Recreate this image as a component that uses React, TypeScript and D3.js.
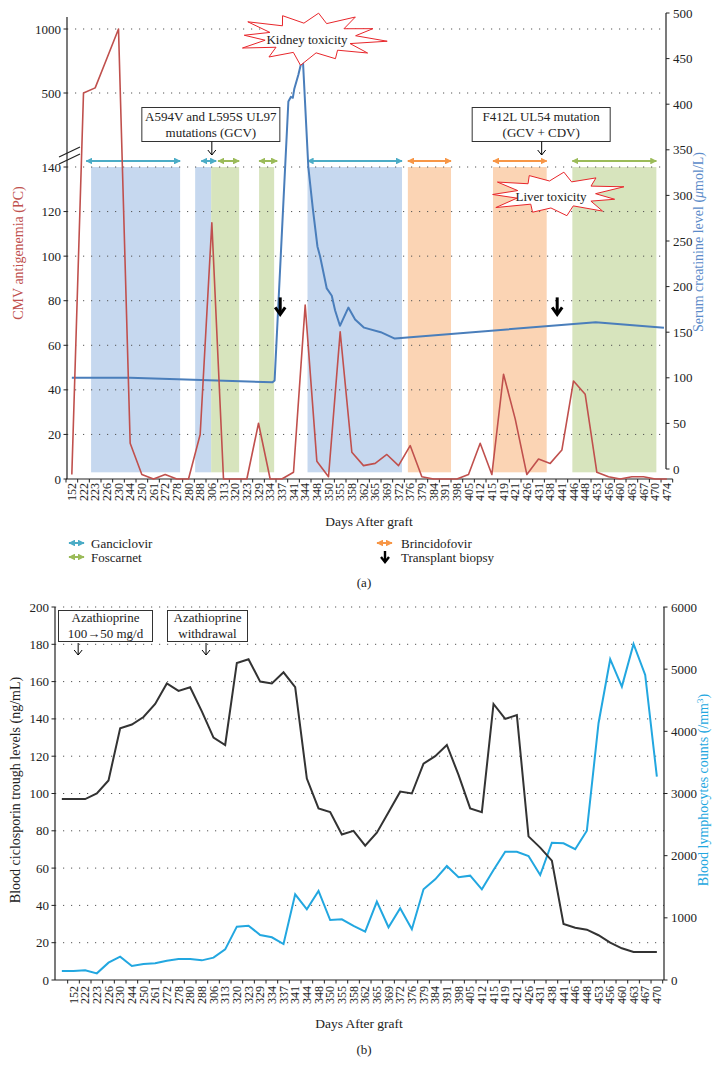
import React from 'react';
import * as d3 from 'd3';

// ---------- Chart (a) data ----------
const daysA = ['152','222','223','226','230','244','250','261','272','278','280','288','306','313','320','323','329','334','337','341','344','348','350','355','358','362','365','369','372','376','379','384','391','398','405','412','415','419','421','426','431','438','441','446','448','453','456','460','463','467','470','474'];
const cmvAntigenemia = [2,500,540,770,1000,16,2,0,2,0,0,20,115,0,0,0,25,0,0,3,78,8,1,66,12,6,7,11,6,15,1,0,0,0,2,16,2,47,27,2,9,7,13,44,38,3,1,0,1,1,0,0];
// creatinine readings: position along the day axis (category index) and value (µmol/L)
const creatininePos = [0,5,17.2,17.38,18.56,18.77,18.94,19.07,19.41,19.79,20.27,20.65,21.05,21.28,21.85,22.28,22.56,22.98,23.7,24.28,25.05,26.48,27.68,44.9,50.75];
const creatinineVal = [100,100,95,97,403,408,407,417,432,452,331,286,244,233,198,190,174,157,177,164,155,150,143,161,155];
const cmvTicks = [0,20,40,60,80,100,120,140,500,1000];
const creatTicks = [0,50,100,150,200,250,300,350,400,450,500];

// treatment periods (category index positions)
const treatDrug = ['Ganciclovir','Ganciclovir','Foscarnet','Foscarnet','Ganciclovir','Brincidofovir','Brincidofovir','Foscarnet'];
const treatStart = [1.65,10.57,11.94,16.05,20.2,28.8,36.1,42.9];
const treatEnd = [9.28,11.94,14.34,17.34,28.3,32.5,40.7,50.1];
const arrowStart = [1.23,11.09,12.54,16.05,20.2,28.8,36.1,42.9];
const arrowEnd = [9.28,12.37,14.34,17.6,28.3,32.5,40.7,50.1];
const biopsyPos = [17.86,41.6];
const biopsyLevel = 77;

// ---------- Chart (b) data ----------
const daysB = ['','152','222','223','226','230','244','250','261','272','278','280','288','306','313','320','323','329','334','337','341','344','348','350','355','358','362','365','369','372','376','379','384','391','398','405','412','415','419','421','426','431','438','441','446','448','453','456','460','463','467','470'];
const ciclosporin = [97,97,97,100,107,135,137,141,148,159,155,157,144,130,126,170,172,160,159,165,157,108,92,90,78,80,72,79,90,101,100,116,120,126,110,92,90,148,140,142,77,71,64,30,28,27,24,20,17,15,15,15];
const lymphocytes = [145,145,156,107,279,375,225,257,268,311,338,338,316,359,493,858,874,724,687,579,1379,1137,1432,965,976,869,777,1260,848,1154,816,1459,1620,1834,1652,1678,1459,1770,2064,2064,1995,1689,2209,2199,2103,2402,4130,5160,4719,5406,4907,3271];
const cicloTicks = [0,20,40,60,80,100,120,140,160,180,200];
const lymphoTicks = [0,1000,2000,3000,4000,5000,6000];

const drugColor: Record<string,string> = { Ganciclovir: '#4bacc6', Foscarnet: '#9bbb59', Brincidofovir: '#f79646' };
const shadeColor: Record<string,string> = { Ganciclovir: '#c6d8ef', Foscarnet: '#d7e4bd', Brincidofovir: '#fbd4b4' };

const FONT = '"Liberation Serif", "DejaVu Serif", serif';

const kidneyMult = [1,0.62,1.05,0.6,0.95,0.64,1.08,0.6,1.0,0.62,0.9,0.6,1.1,0.62,0.95,0.6,1.02,0.63,0.92,0.6,1.08,0.62,0.97,0.6];
const liverMult = [1,0.6,0.95,0.64,1.08,0.6,0.92,0.62,1.05,0.6,1.0,0.64,0.9,0.6,1.1,0.62,0.96,0.6,1.04,0.63,0.93,0.6];

function starPath(cx: number, cy: number, rx: number, ry: number, mult: number[]) {
  const n = mult.length;
  const pts = mult.map((m, k) => {
    const a = -Math.PI / 2 + (k * 2 * Math.PI) / n + 0.12;
    return [cx + Math.cos(a) * rx * m, cy + Math.sin(a) * ry * m] as [number, number];
  });
  return d3.line()(pts) + 'Z';
}

function DownArrow({ x, y1, y2 }: { x: number; y1: number; y2: number }) {
  return (
    <g stroke="#000" strokeWidth={1} fill="none">
      <line x1={x} y1={y1} x2={x} y2={y2} />
      <polyline points={`${x - 4},${y2 - 5} ${x},${y2} ${x + 4},${y2 - 5}`} />
    </g>
  );
}

function BiopsyArrow({ x, y }: { x: number; y: number }) {
  return (
    <g stroke="#000" strokeWidth={3} fill="none" strokeLinecap="butt">
      <line x1={x} y1={y - 10} x2={x} y2={y + 6} />
      <polyline points={`${x - 5},${y} ${x},${y + 7} ${x + 5},${y}`} strokeLinejoin="miter" />
    </g>
  );
}

export default function App() {
  // ---------- scales (a) ----------
  const xA = d3.scaleBand<string>().domain(daysA).range([66, 672.7]);
  const bwA = xA.bandwidth();
  const xAc = (d: string) => (xA(d) as number) + bwA / 2;
  const xApos = d3.scaleLinear().domain([-0.5, daysA.length - 0.5]).range([66, 672.7]);
  const yAL = d3.scaleLinear().domain([0, 140, 500, 1000]).range([479, 167, 93, 29]);
  const yAR = d3.scaleLinear().domain([0, 500]).range([469, 13]);
  const axAL = 67, axAR = 666, baseA = yAL(0);

  const cmvPath = d3.line<number>().x((_, i) => xAc(daysA[i])).y((d) => yAL(d))(cmvAntigenemia) as string;
  const creatPath = d3.line<number>().x((_, i) => xApos(creatininePos[i])).y((d) => yAR(d))(creatinineVal) as string;

  // ---------- scales (b) ----------
  const xB = d3.scaleBand<string>().domain(daysB.map((_, i) => String(i))).range([56, 662.7]);
  const bwB = xB.bandwidth();
  const xBc = (i: number) => (xB(String(i)) as number) + bwB / 2;
  const xBpos = d3.scaleLinear().domain([-0.5, daysB.length - 0.5]).range([56, 662.7]);
  const yBL = d3.scaleLinear().domain([0, 200]).range([980, 607]);
  const yBR = d3.scaleLinear().domain([0, 6000]).range([980, 607]);
  const axBL = 55, axBR = 664, baseB = yBL(0);

  const cicloPath = d3.line<number>().x((_, i) => xBc(i)).y((d) => yBL(d))(ciclosporin) as string;
  const lymphoPath = d3.line<number>().x((_, i) => xBc(i)).y((d) => yBR(d))(lymphocytes) as string;

  const arrowY = yAL(140) - 6;
  const callA1x = xAc('306');
  const callA2x = xApos(40.27);

  return (
    <div style={{ position: 'absolute', left: 0, top: 0 }}>
      <svg width={728} height={1076} style={{ display: 'block', background: '#fff' }} fontFamily={FONT}>
        <defs>
          {Object.keys(drugColor).map((k) => (
            <marker key={k} id={'m-' + k} viewBox="0 0 10 10" refX="9" refY="5" markerWidth="3.4" markerHeight="3.4" orient="auto-start-reverse">
              <path d="M0,0L10,5L0,10z" fill={drugColor[k]} />
            </marker>
          ))}
        </defs>

        {/* ================= Chart (a) ================= */}
        {treatDrug.map((d, i) => (
          <rect key={'sh' + i} x={xApos(treatStart[i])} y={yAL(140)} width={xApos(treatEnd[i]) - xApos(treatStart[i])}
            height={yAL(3) - yAL(140)} fill={shadeColor[d]} />
        ))}
        {/* gridlines */}
        {cmvTicks.filter((t) => t > 0).map((t) => (
          <line key={'ga' + t} x1={axAL} x2={axAR} y1={yAL(t)} y2={yAL(t)} stroke="#555" strokeWidth={1} strokeDasharray="1.2,6.8" />
        ))}
        {/* treatment arrows */}
        {treatDrug.map((d, i) => (
          <line key={'ar' + i} x1={xApos(arrowStart[i])} x2={xApos(arrowEnd[i])} y1={arrowY} y2={arrowY}
            stroke={drugColor[d]} strokeWidth={2} markerStart={`url(#m-${d})`} markerEnd={`url(#m-${d})`} />
        ))}
        {/* axes */}
        <line x1={axAL} x2={axAL} y1={17} y2={baseA} stroke="#222" strokeWidth={1.2} />
        <line x1={axAR} x2={axAR} y1={yAR(500)} y2={yAR(0)} stroke="#222" strokeWidth={1.2} />
        <line x1={66} x2={672.7} y1={baseA} y2={baseA} stroke="#222" strokeWidth={1.2} />
        {d3.range(daysA.length + 1).map((i) => (
          <line key={'xta' + i} x1={66 + i * bwA} x2={66 + i * bwA} y1={baseA} y2={baseA + 3.5} stroke="#222" />
        ))}
        {cmvTicks.map((t) => (
          <g key={'lta' + t}>
            <line x1={axAL - 3.5} x2={axAL} y1={yAL(t)} y2={yAL(t)} stroke="#222" />
            <text x={axAL - 6} y={yAL(t)} dy="0.35em" textAnchor="end" fontSize={13} fill="#222">{t}</text>
          </g>
        ))}
        {creatTicks.map((t) => (
          <g key={'rta' + t}>
            <line x1={axAR} x2={axAR + 3.5} y1={yAR(t)} y2={yAR(t)} stroke="#222" />
            <text x={axAR + 7} y={yAR(t)} dy="0.35em" textAnchor="start" fontSize={13} fill="#222">{t}</text>
          </g>
        ))}
        {/* axis break */}
        <line x1={59} y1={157} x2={80} y2={147} stroke="#222" strokeWidth={1.2} />
        <line x1={59} y1={164} x2={80} y2={154} stroke="#222" strokeWidth={1.2} />
        {daysA.map((d) => (
          <text key={'xla' + d} transform={`translate(${xAc(d)},${baseA + 4}) rotate(-90)`} dy="0.35em" textAnchor="end" fontSize={12} fill="#222">{d}</text>
        ))}
        {/* series */}
        <path d={creatPath} fill="none" stroke="#4a7ebb" strokeWidth={2} strokeLinejoin="round" />
        <path d={cmvPath} fill="none" stroke="#c0504d" strokeWidth={1.6} strokeLinejoin="round" />
        {biopsyPos.map((p, i) => (
          <BiopsyArrow key={'bx' + i} x={xApos(p)} y={yAL(biopsyLevel)} />
        ))}
        {/* callouts */}
        <rect x={callA1x - 70} y={107.5} width={138} height={34} fill="#fff" stroke="#333" strokeWidth={1} />
        <text x={callA1x - 1} y={121} textAnchor="middle" fontSize={13} fill="#222">A594V and L595S UL97</text>
        <text x={callA1x - 1} y={137} textAnchor="middle" fontSize={13} fill="#222">mutations (GCV)</text>
        <DownArrow x={callA1x} y1={141.5} y2={155} />
        <rect x={callA2x - 69.5} y={107.5} width={138} height={34} fill="#fff" stroke="#333" strokeWidth={1} />
        <text x={callA2x - 0.5} y={121} textAnchor="middle" fontSize={13} fill="#222">F412L UL54 mutation</text>
        <text x={callA2x - 0.5} y={137} textAnchor="middle" fontSize={13} fill="#222">(GCV + CDV)</text>
        <DownArrow x={callA2x} y1={141.5} y2={155} />
        {/* starbursts */}
        <path d={starPath(310, 38, 72, 25, kidneyMult)} fill="#fff" stroke="#e8262b" strokeWidth={1} />
        <text x={307} y={44} textAnchor="middle" fontSize={13} fill="#222">Kidney toxicity</text>
        <path d={starPath(556, 194, 66, 22, liverMult)} fill="#fff" stroke="#e8262b" strokeWidth={1} />
        <text x={551} y={201} textAnchor="middle" fontSize={13} fill="#222">Liver toxicity</text>
        {/* axis titles */}
        <text transform="translate(23,253) rotate(-90)" textAnchor="middle" fontSize={14} fill="#c0504d">CMV antigenemia (PC)</text>
        <text transform="translate(703,242) rotate(-90)" textAnchor="middle" fontSize={14} fill="#5b8bc9">
          Serum creatinine level (<tspan fontStyle="italic">μ</tspan>mol/L)
        </text>
        <text x={369} y={526} textAnchor="middle" fontSize={13.5} fill="#222">Days After graft</text>
        {/* legend */}
        <line x1={69} x2={84} y1={543} y2={543} stroke={drugColor.Ganciclovir} strokeWidth={2} markerStart="url(#m-Ganciclovir)" markerEnd="url(#m-Ganciclovir)" />
        <text x={91} y={547.5} fontSize={13} fill="#222">Ganciclovir</text>
        <line x1={69} x2={84} y1={557} y2={557} stroke={drugColor.Foscarnet} strokeWidth={2} markerStart="url(#m-Foscarnet)" markerEnd="url(#m-Foscarnet)" />
        <text x={91} y={561.5} fontSize={13} fill="#222">Foscarnet</text>
        <line x1={377} x2={392} y1={543} y2={543} stroke={drugColor.Brincidofovir} strokeWidth={2} markerStart="url(#m-Brincidofovir)" markerEnd="url(#m-Brincidofovir)" />
        <text x={401} y={547.5} fontSize={13} fill="#222">Brincidofovir</text>
        <g stroke="#000" strokeWidth={2.4} fill="none">
          <line x1={385} x2={385} y1={551} y2={562} />
          <polyline points="381,557 385,562 389,557" />
        </g>
        <text x={401} y={561.5} fontSize={13} fill="#222">Transplant biopsy</text>
        <text x={364} y={587} textAnchor="middle" fontSize={13} fill="#222">(a)</text>

        {/* ================= Chart (b) ================= */}
        {cicloTicks.filter((t) => t > 0).map((t) => (
          <line key={'gb' + t} x1={axBL} x2={axBR} y1={yBL(t)} y2={yBL(t)} stroke="#555" strokeWidth={1} strokeDasharray="1.2,6.8" />
        ))}
        <line x1={axBL} x2={axBL} y1={yBL(200)} y2={baseB} stroke="#222" strokeWidth={1.2} />
        <line x1={axBR} x2={axBR} y1={yBR(6000)} y2={baseB} stroke="#222" strokeWidth={1.2} />
        <line x1={axBL} x2={axBR} y1={baseB} y2={baseB} stroke="#222" strokeWidth={1.2} />
        {d3.range(1, daysB.length + 1).map((i) => (
          <line key={'xtb' + i} x1={56 + i * bwB} x2={56 + i * bwB} y1={baseB} y2={baseB + 3.5} stroke="#222" />
        ))}
        {cicloTicks.map((t) => (
          <g key={'ltb' + t}>
            <line x1={axBL - 3.5} x2={axBL} y1={yBL(t)} y2={yBL(t)} stroke="#222" />
            <text x={axBL - 6} y={yBL(t)} dy="0.35em" textAnchor="end" fontSize={13} fill="#222">{t}</text>
          </g>
        ))}
        {lymphoTicks.map((t) => (
          <g key={'rtb' + t}>
            <line x1={axBR} x2={axBR + 3.5} y1={yBR(t)} y2={yBR(t)} stroke="#222" />
            <text x={axBR + 7} y={yBR(t)} dy="0.35em" textAnchor="start" fontSize={13} fill="#222">{t}</text>
          </g>
        ))}
        {daysB.map((d, i) => (
          d ? <text key={'xlb' + i} transform={`translate(${xBc(i)},${baseB + 6}) rotate(-90)`} dy="0.35em" textAnchor="end" fontSize={12} fill="#222">{d}</text> : null
        ))}
        <path d={lymphoPath} fill="none" stroke="#22a7e0" strokeWidth={2} strokeLinejoin="miter" />
        <path d={cicloPath} fill="none" stroke="#333" strokeWidth={2} strokeLinejoin="miter" />
        {/* annotations */}
        <rect x={58.5} y={610.5} width={94} height={31} fill="#fff" stroke="#333" strokeWidth={1} />
        <text x={105.5} y={621.5} textAnchor="middle" fontSize={13} fill="#222">Azathioprine</text>
        <text x={105.5} y={637.5} textAnchor="middle" fontSize={13} fill="#222">100→50 mg/d</text>
        <DownArrow x={xBpos(1.4)} y1={643} y2={655} />
        <rect x={167.5} y={610.5} width={80} height={31} fill="#fff" stroke="#333" strokeWidth={1} />
        <text x={207.5} y={621.5} textAnchor="middle" fontSize={13} fill="#222">Azathioprine</text>
        <text x={207.5} y={637.5} textAnchor="middle" fontSize={13} fill="#222">withdrawal</text>
        <DownArrow x={xBpos(12.36)} y1={643} y2={655} />
        {/* axis titles */}
        <text transform="translate(20,790) rotate(-90)" textAnchor="middle" fontSize={14} fill="#222">Blood ciclosporin trough levels (ng/mL)</text>
        <text transform="translate(708,790) rotate(-90)" textAnchor="middle" fontSize={14} fill="#22a7e0">
          Blood lymphocytes counts (/mm<tspan baselineShift="super" fontSize={9}>3</tspan>)
        </text>
        <text x={359} y={1028} textAnchor="middle" fontSize={13.5} fill="#222">Days After graft</text>
        <text x={364} y={1054} textAnchor="middle" fontSize={13} fill="#222">(b)</text>
      </svg>
    </div>
  );
}
